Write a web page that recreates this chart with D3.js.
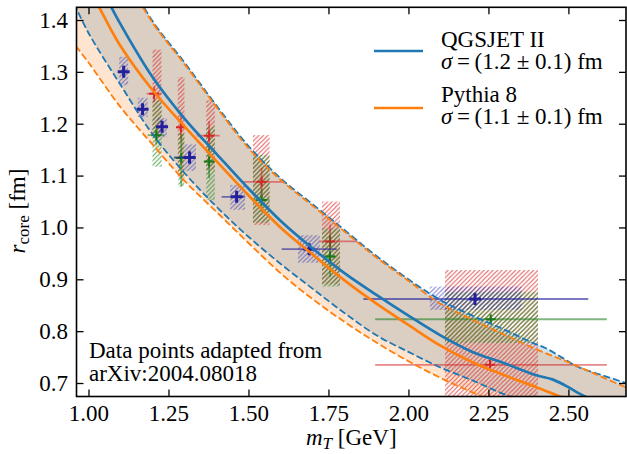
<!DOCTYPE html>
<html>
<head>
<meta charset="utf-8">
<script src="https://cdn.jsdelivr.net/npm/d3@7"></script>
<style>
  body { margin: 0; background: #fff; }
  svg { display: block; font-family: "Liberation Serif", "DejaVu Serif", serif; }
</style>
</head>
<body>
<div id="chart"></div>
<script>
// model curves, [mT (GeV), r_core (fm)]
const qgsMid = [[1.00,1.510],[1.05,1.450],[1.10,1.392],[1.20,1.290],[1.30,1.210],[1.40,1.142],[1.50,1.075],[1.60,1.013],[1.70,0.960],[1.80,0.912],[1.90,0.870],[2.00,0.830],[2.10,0.792],[2.20,0.760],[2.30,0.738],[2.40,0.715],[2.45,0.707],[2.50,0.692],[2.53,0.681],[2.60,0.660]];
const qgsLow = [[0.96,1.425],[1.00,1.375],[1.10,1.275],[1.20,1.180],[1.30,1.105],[1.40,1.040],[1.50,0.982],[1.60,0.930],[1.70,0.882],[1.80,0.835],[1.90,0.792],[2.00,0.760],[2.10,0.730],[2.20,0.705],[2.30,0.678],[2.40,0.655],[2.55,0.625],[2.70,0.600]];
const qgsUp = [[0.96,1.650],[1.00,1.610],[1.10,1.505],[1.20,1.398],[1.30,1.318],[1.40,1.235],[1.50,1.157],[1.60,1.095],[1.70,1.045],[1.80,0.995],[1.90,0.945],[2.00,0.900],[2.10,0.860],[2.20,0.830],[2.30,0.803],[2.39,0.777],[2.43,0.767],[2.48,0.749],[2.53,0.731],[2.60,0.716],[2.70,0.696]];

const pyMid = [[1.00,1.465],[1.05,1.405],[1.10,1.350],[1.20,1.265],[1.30,1.195],[1.40,1.128],[1.50,1.062],[1.60,1.000],[1.70,0.948],[1.80,0.898],[1.90,0.853],[2.00,0.812],[2.10,0.772],[2.20,0.740],[2.30,0.715],[2.40,0.692],[2.50,0.668],[2.60,0.648]];
const pyLow = [[0.96,1.350],[1.00,1.318],[1.10,1.232],[1.20,1.160],[1.30,1.090],[1.40,1.030],[1.50,0.970],[1.60,0.912],[1.70,0.862],[1.80,0.818],[1.90,0.778],[2.00,0.742],[2.10,0.710],[2.20,0.682],[2.30,0.656],[2.50,0.615],[2.70,0.585]];
const pyUp = [[0.96,1.640],[1.00,1.600],[1.10,1.500],[1.20,1.395],[1.30,1.315],[1.40,1.232],[1.50,1.153],[1.60,1.092],[1.70,1.042],[1.80,0.992],[1.90,0.942],[2.00,0.897],[2.10,0.853],[2.20,0.822],[2.30,0.793],[2.40,0.765],[2.50,0.740],[2.60,0.713],[2.70,0.686]];

// data points: [mT, r, xLo, xHi, rLo, rHi, boxM0, boxM1, boxR0, boxR1]
const bluePts = [
  [1.110, 1.300, 1.098, 1.124, 1.290, 1.312, 1.096, 1.124, 1.274, 1.329],
  [1.169, 1.228, 1.156, 1.183, 1.218, 1.238, 1.154, 1.185, 1.213, 1.250],
  [1.230, 1.194, 1.216, 1.244, 1.184, 1.205, 1.215, 1.245, 1.174, 1.211],
  [1.316, 1.135, 1.267, 1.336, 1.122, 1.148, 1.300, 1.336, 1.109, 1.160],
  [1.463, 1.059, 1.416, 1.490, 1.048, 1.070, 1.443, 1.489, 1.034, 1.082],
  [1.690, 0.958, 1.604, 1.776, 0.948, 0.968, 1.655, 1.723, 0.932, 0.985],
  [2.208, 0.862, 1.859, 2.562, 0.854, 0.870, 2.067, 2.354, 0.841, 0.886]
];
const redPts = [
  [1.205, 1.258, 1.182, 1.229, 1.242, 1.272, 1.200, 1.228, 1.173, 1.343],
  [1.289, 1.193, 1.276, 1.302, 1.170, 1.215, 1.279, 1.300, 1.095, 1.290],
  [1.377, 1.177, 1.338, 1.410, 1.150, 1.205, 1.368, 1.395, 1.110, 1.245],
  [1.541, 1.088, 1.483, 1.608, 1.060, 1.115, 1.514, 1.566, 1.005, 1.178],
  [1.755, 0.973, 1.722, 1.840, 0.960, 1.005, 1.730, 1.786, 0.890, 1.050],
  [2.255, 0.735, 1.896, 2.620, 0.725, 0.745, 2.114, 2.405, 0.552, 0.918]
];
const greenPts = [
  [1.212, 1.178, 1.185, 1.236, 1.160, 1.195, 1.200, 1.229, 1.117, 1.246],
  [1.290, 1.134, 1.267, 1.310, 1.080, 1.180, 1.281, 1.299, 1.078, 1.182],
  [1.377, 1.127, 1.360, 1.395, 1.095, 1.160, 1.368, 1.395, 1.053, 1.194],
  [1.541, 1.053, 1.515, 1.566, 1.030, 1.075, 1.514, 1.566, 1.009, 1.140],
  [1.755, 0.944, 1.735, 1.775, 0.905, 0.985, 1.730, 1.786, 0.886, 0.998],
  [2.257, 0.823, 1.896, 2.620, 0.815, 0.831, 2.114, 2.405, 0.777, 0.876]
];

const xTicks = [1.00, 1.25, 1.50, 1.75, 2.00, 2.25, 2.50];
const yTicks = [0.7, 0.8, 0.9, 1.0, 1.1, 1.2, 1.3, 1.4];
const xDomain = [0.9625, 2.680];
const yDomain = [0.674, 1.4245];

const W = 627, H = 454;
const margin = { top: 7.3, left: 76.5, right: 1, bottom: 57.5 };
const width = W - margin.left - margin.right;
const height = H - margin.top - margin.bottom;
const FS = 23;

const C0 = "#1f77b4", C1 = "#ff7f0e";

const svg = d3.select("#chart").append("svg")
  .attr("width", W).attr("height", H);

const defs = svg.append("defs");
defs.append("clipPath").attr("id", "clip")
  .append("rect").attr("width", width).attr("height", height);

function hatch(id, color, op) {
  let p = defs.append("pattern").attr("id", id)
    .attr("patternUnits", "userSpaceOnUse")
    .attr("width", 4.5).attr("height", 4.5);
  p.append("path")
    .attr("d", "M-1,1 L1,-1 M0,4.5 L4.5,0 M3.5,5.5 L5.5,3.5")
    .attr("stroke", color).attr("stroke-width", 1.1).attr("stroke-opacity", op);
}
hatch("hRed", "#d62728", 0.75);
hatch("hGreen", "#1e8a1e", 0.75);
hatch("hBlue", "#2b2bb0", 0.6);

const g = svg.append("g")
  .attr("transform", "translate(" + margin.left + "," + margin.top + ")");

const x = d3.scaleLinear().domain(xDomain).range([0, width]);
const y = d3.scaleLinear().domain(yDomain).range([height, 0]);

const line = d3.line()
  .x(d => x(d[0])).y(d => y(d[1]))
  .curve(d3.curveCatmullRom.alpha(0.5));

function band(up, low) {
  let rev = low.slice().reverse();
  return line(up) + "L" + line(rev).slice(1) + "Z";
}

const plot = g.append("g").attr("clip-path", "url(#clip)");

// bands
plot.append("path").attr("d", band(qgsUp, qgsLow))
  .attr("fill", C0).attr("fill-opacity", 0.2);
plot.append("path").attr("d", band(pyUp, pyLow))
  .attr("fill", C1).attr("fill-opacity", 0.2);

// systematic boxes
function boxes(pts, fill) {
  plot.append("g").selectAll("rect").data(pts).enter().append("rect")
    .attr("x", d => x(d[6]))
    .attr("width", d => x(d[7]) - x(d[6]))
    .attr("y", d => y(d[9]))
    .attr("height", d => y(d[8]) - y(d[9]))
    .attr("fill", "url(#" + fill + ")");
}
boxes(redPts, "hRed");
boxes(greenPts, "hGreen");
boxes(bluePts, "hBlue");

// error bars and markers
function points(pts, color, op, mk, mw) {
  let s = plot.append("g");
  s.selectAll(".ex").data(pts).enter().append("line")
    .attr("x1", d => x(d[2])).attr("x2", d => x(d[3]))
    .attr("y1", d => y(d[1])).attr("y2", d => y(d[1]))
    .attr("stroke", color).attr("stroke-opacity", op).attr("stroke-width", 1.8);
  s.selectAll(".ey").data(pts).enter().append("line")
    .attr("x1", d => x(d[0])).attr("x2", d => x(d[0]))
    .attr("y1", d => y(d[4])).attr("y2", d => y(d[5]))
    .attr("stroke", color).attr("stroke-opacity", op).attr("stroke-width", 1.8);
  s.selectAll(".mk").data(pts).enter().append("path")
    .attr("d", d => {
      let cx = x(d[0]), cy = y(d[1]), h = mk / 2;
      return "M" + (cx - h) + "," + cy + "H" + (cx + h) + "M" + cx + "," + (cy - h) + "V" + (cy + h);
    })
    .attr("stroke", color).attr("stroke-width", mw);
}
points(redPts, "#d62728", 0.55, 10, 2);
points(greenPts, "#1a7a1a", 0.55, 10, 2);
points(bluePts, "#24209c", 0.6, 12, 3);

// model lines
function curve(data, color, dashed, offset) {
  plot.append("path").attr("d", line(data))
    .attr("fill", "none").attr("stroke", color)
    .attr("stroke-width", dashed ? 1.8 : 2.7)
    .attr("stroke-dasharray", dashed ? "7,3" : null)
    .attr("stroke-dashoffset", offset || 0);
}
curve(qgsLow, C0, true, 4);
curve(qgsUp, C0, true, 4);
curve(qgsMid, C0, false);
curve(pyLow, C1, true, 0);
curve(pyUp, C1, true, 0);
curve(pyMid, C1, false);

// axes, inward ticks on all sides
function styleAxis(a) {
  a.select(".domain").remove();
  a.selectAll(".tick line").attr("stroke", "#000").attr("stroke-width", 1.3);
  a.selectAll("text").attr("font-size", FS).attr("fill", "#000")
    .attr("font-family", "Liberation Serif, DejaVu Serif, serif");
}
g.append("g").attr("transform", "translate(0," + height + ")")
  .call(d3.axisBottom(x).tickValues(xTicks).tickFormat(d3.format(".2f"))
    .tickSizeInner(-7).tickSizeOuter(0).tickPadding(8))
  .call(styleAxis);
g.append("g")
  .call(d3.axisTop(x).tickValues(xTicks).tickFormat("")
    .tickSizeInner(-7).tickSizeOuter(0))
  .call(styleAxis);
g.append("g")
  .call(d3.axisLeft(y).tickValues(yTicks).tickFormat(d3.format(".1f"))
    .tickSizeInner(-7).tickSizeOuter(0).tickPadding(8.5))
  .call(styleAxis);
g.append("g").attr("transform", "translate(" + width + ",0)")
  .call(d3.axisRight(y).tickValues(yTicks).tickFormat("")
    .tickSizeInner(-7).tickSizeOuter(0))
  .call(styleAxis);

g.append("rect").attr("width", width).attr("height", height)
  .attr("fill", "none").attr("stroke", "#000").attr("stroke-width", 1.6);

// axis labels
svg.append("text").attr("x", margin.left + width / 2).attr("y", 445)
  .attr("text-anchor", "middle").attr("font-size", FS)
  .call(t => {
    t.append("tspan").attr("font-style", "italic").text("m");
    t.append("tspan").attr("font-style", "italic").attr("font-size", 17).attr("dy", 4).text("T");
    t.append("tspan").attr("dy", -4).text(" [GeV]");
  });

svg.append("text").attr("transform", "translate(25,211) rotate(-90)")
  .attr("text-anchor", "middle").attr("font-size", FS)
  .call(t => {
    t.append("tspan").attr("font-style", "italic").text("r");
    t.append("tspan").attr("font-size", 17).attr("dy", 4).text("core");
    t.append("tspan").attr("dy", -4).text(" [fm]");
  });

// legend
const legend = svg.append("g");
const legRows = [
  { color: C0, y: 51, name: "QGSJET II", sig: "1.2", ty: 46.5 },
  { color: C1, y: 108, name: "Pythia 8", sig: "1.1", ty: 101.5 }
];
legRows.forEach(r => {
  legend.append("line").attr("x1", 374).attr("x2", 423)
    .attr("y1", r.y).attr("y2", r.y)
    .attr("stroke", r.color).attr("stroke-width", 2.7);
  legend.append("text").attr("x", 441).attr("y", r.ty)
    .attr("font-size", FS).text(r.name);
  legend.append("text").attr("x", 441).attr("y", r.ty + 22)
    .attr("font-size", FS)
    .call(t => {
      t.append("tspan").attr("font-style", "italic").text("\u03c3");
      t.append("tspan").text("\u2009=\u2009(" + r.sig + " \u00b1 0.1) fm");
    });
});

// source note
svg.append("text").attr("x", 89).attr("y", 357.5).attr("font-size", FS)
  .text("Data points adapted from");
svg.append("text").attr("x", 89).attr("y", 381).attr("font-size", FS)
  .text("arXiv:2004.08018");
</script>
</body>
</html>
